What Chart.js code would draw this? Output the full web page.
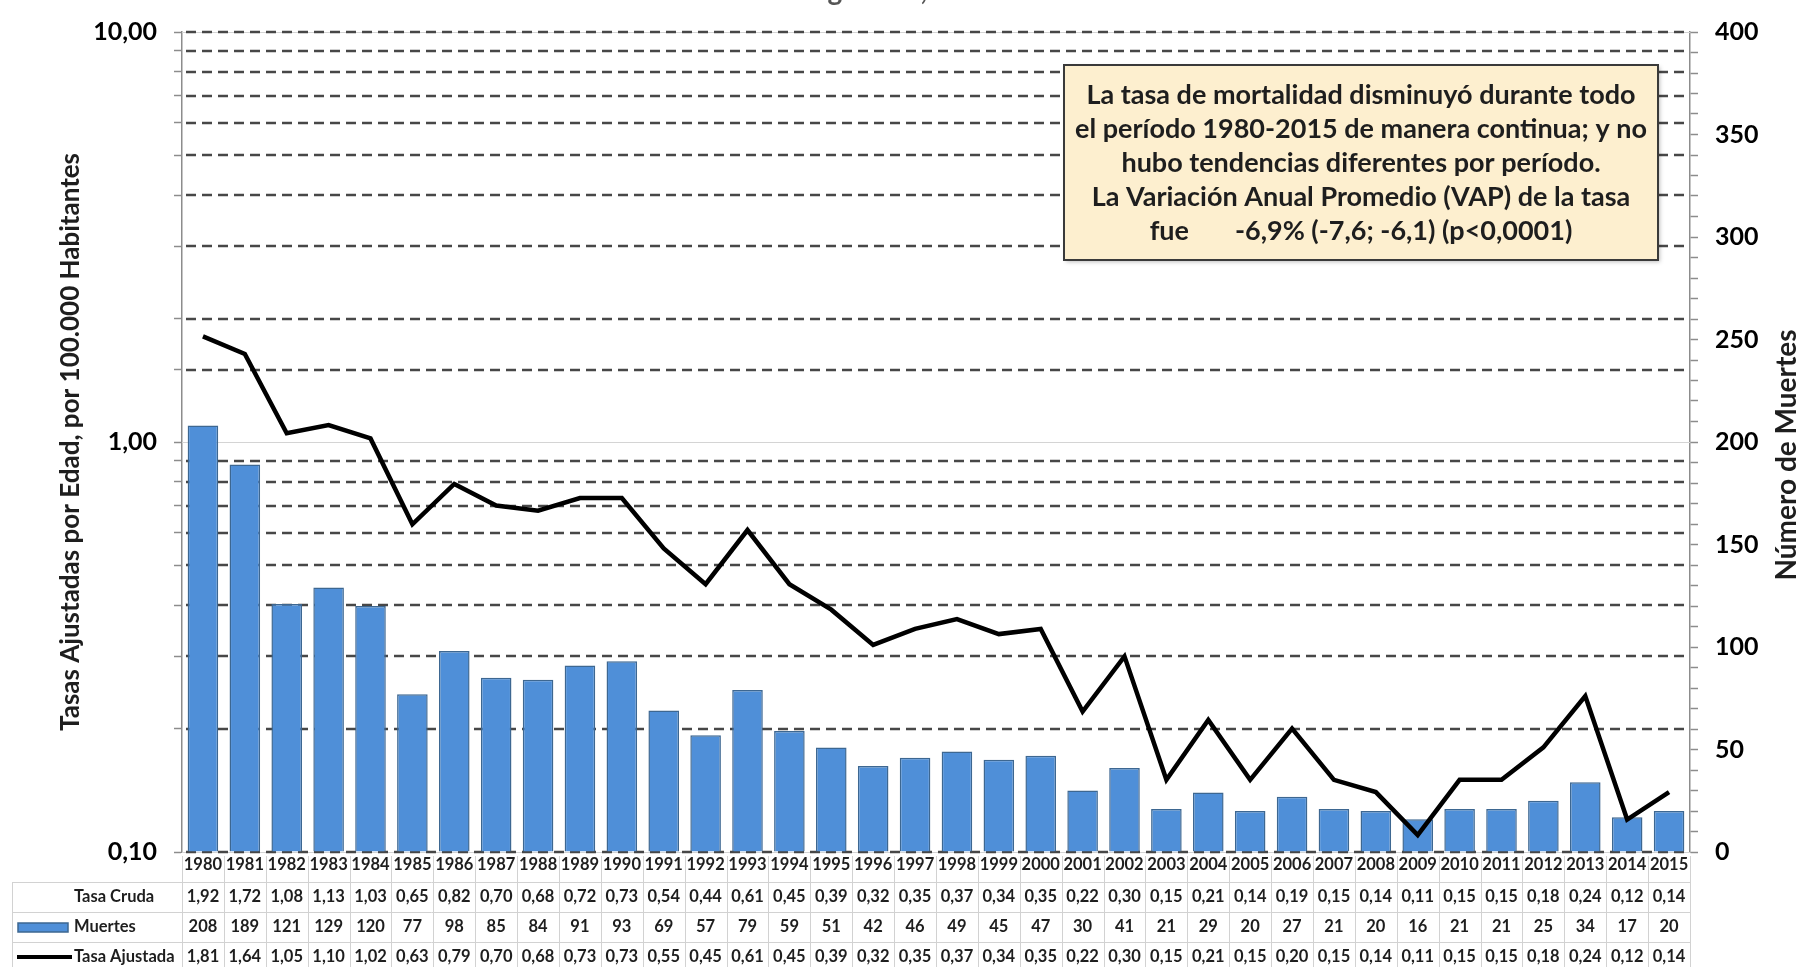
<!DOCTYPE html>
<html lang="es">
<head>
<meta charset="utf-8">
<title>Mortalidad 1980-2015</title>
<script src="https://cdn.jsdelivr.net/npm/chart.js@4.4.1/dist/chart.umd.min.js"></script>
<style>
  html, body { margin: 0; padding: 0; background: #fff; }
  canvas { display: block; }
</style>
</head>
<body>
<canvas id="mortalityChart" width="1802" height="967"></canvas>
<script>
const years = ["1980", "1981", "1982", "1983", "1984", "1985", "1986", "1987", "1988", "1989",
  "1990", "1991", "1992", "1993", "1994", "1995", "1996", "1997", "1998", "1999",
  "2000", "2001", "2002", "2003", "2004", "2005", "2006", "2007", "2008", "2009",
  "2010", "2011", "2012", "2013", "2014", "2015"];

const tasaCruda = [1.92, 1.72, 1.08, 1.13, 1.03, 0.65, 0.82, 0.70, 0.68, 0.72,
  0.73, 0.54, 0.44, 0.61, 0.45, 0.39, 0.32, 0.35, 0.37, 0.34,
  0.35, 0.22, 0.30, 0.15, 0.21, 0.14, 0.19, 0.15, 0.14, 0.11,
  0.15, 0.15, 0.18, 0.24, 0.12, 0.14];

const muertes = [208, 189, 121, 129, 120, 77, 98, 85, 84, 91,
  93, 69, 57, 79, 59, 51, 42, 46, 49, 45,
  47, 30, 41, 21, 29, 20, 27, 21, 20, 16,
  21, 21, 25, 34, 17, 20];

const tasaAjustada = [1.81, 1.64, 1.05, 1.10, 1.02, 0.63, 0.79, 0.70, 0.68, 0.73,
  0.73, 0.55, 0.45, 0.61, 0.45, 0.39, 0.32, 0.35, 0.37, 0.34,
  0.35, 0.22, 0.30, 0.15, 0.21, 0.15, 0.20, 0.15, 0.14, 0.11,
  0.15, 0.15, 0.18, 0.24, 0.12, 0.14];

const noteLines = [
  "La tasa de mortalidad disminuyó durante todo",
  "el período 1980-2015 de manera continua; y no",
  "hubo tendencias diferentes por período.",
  "La Variación Anual Promedio (VAP) de la tasa",
  "fue       -6,9% (-7,6; -6,1) (p<0,0001)"
];

const FONT = "Lato, 'Open Sans', sans-serif";
const TEXT_COLOR = "#1e1e1e";
const BAR_COLOR = "#4f8fd8";
const BAR_BORDER = "#3d6791";

Chart.defaults.font.family = FONT;
Chart.defaults.color = TEXT_COLOR;

function isPowerOfTen(v) {
  const l = Math.log10(v);
  return Math.abs(l - Math.round(l)) < 1e-9;
}

function comma(v) {
  return v.toFixed(2).replace(".", ",");
}

// dashed log gridlines, drawn under the bars
const gridLinesPlugin = {
  id: "logGridLines",
  beforeDatasetsDraw(chart) {
    const { ctx, chartArea } = chart;
    const yScale = chart.scales.yRate;
    ctx.save();
    yScale.ticks.forEach((tick) => {
      const y = Math.round(yScale.getPixelForValue(tick.value));
      const decade = isPowerOfTen(tick.value);
      if (decade) {
        ctx.setLineDash([]);
        ctx.strokeStyle = "#d4d4d4";
        ctx.lineWidth = 1;
        ctx.beginPath();
        ctx.moveTo(chartArea.left, y + 0.5);
        ctx.lineTo(chartArea.right, y + 0.5);
        ctx.stroke();
      }
      if (!decade || Math.abs(tick.value - 1) > 1e-9) {
        ctx.setLineDash([10, 6]);
        ctx.strokeStyle = "#474747";
        ctx.lineWidth = 2.6;
        ctx.beginPath();
        ctx.moveTo(chartArea.left + 4, y);
        ctx.lineTo(chartArea.right, y);
        ctx.stroke();
      }
    });
    ctx.restore();
  }
};

// axis titles, data table, note box
const extrasPlugin = {
  id: "extras",
  afterDraw(chart) {
    const { ctx, chartArea } = chart;
    const xScale = chart.scales.x;
    ctx.save();

    // title, cut off by the top edge
    ctx.fillStyle = "#555";
    ctx.font = "bold 28px " + FONT;
    ctx.textAlign = "center";
    ctx.textBaseline = "alphabetic";
    ctx.fillText("Argentina, 1980-2015", (chartArea.left + chartArea.right) / 2, 0);

    // axis titles
    ctx.fillStyle = TEXT_COLOR;
    ctx.textBaseline = "middle";
    ctx.font = "bold 26px " + FONT;
    ctx.save();
    ctx.translate(71, (chartArea.top + chartArea.bottom) / 2);
    ctx.rotate(-Math.PI / 2);
    ctx.fillText("Tasas Ajustadas por Edad, por 100.000 Habitantes", 0, 0);
    ctx.restore();
    ctx.font = "bold 28px " + FONT;
    ctx.save();
    ctx.translate(1787, 455);
    ctx.rotate(-Math.PI / 2);
    ctx.fillText("Número de Muertes", 0, 0);
    ctx.restore();

    // data table
    const half = (xScale.getPixelForValue(1) - xScale.getPixelForValue(0)) / 2;
    const tableLeft = 12;
    const rowTops = [882, 912, 942, 972];
    const tableRight = xScale.getPixelForValue(years.length - 1) + half;
    ctx.strokeStyle = "#d2d2d2";
    ctx.lineWidth = 1;
    rowTops.forEach((y) => {
      ctx.beginPath();
      ctx.moveTo(tableLeft, y + 0.5);
      ctx.lineTo(tableRight, y + 0.5);
      ctx.stroke();
    });
    const verticals = [tableLeft];
    for (let i = 0; i <= years.length; i++) {
      verticals.push(xScale.getPixelForValue(i) - half);
    }
    verticals.forEach((x, k) => {
      ctx.beginPath();
      ctx.moveTo(Math.round(x) + 0.5, k === 0 ? rowTops[0] : 856);
      ctx.lineTo(Math.round(x) + 0.5, 967);
      ctx.stroke();
    });

    const rows = [
      { label: "Tasa Cruda", values: tasaCruda.map(comma) },
      { label: "Muertes", values: muertes.map(String) },
      { label: "Tasa Ajustada", values: tasaAjustada.map(comma) }
    ];
    ctx.font = "bold 16.5px " + FONT;
    ctx.textBaseline = "middle";
    rows.forEach((row, r) => {
      const cy = rowTops[r] + 15;
      ctx.textAlign = "left";
      ctx.fillStyle = TEXT_COLOR;
      ctx.fillText(row.label, 74, cy);
      ctx.textAlign = "center";
      row.values.forEach((v, i) => {
        ctx.fillText(v, xScale.getPixelForValue(i), cy);
      });
    });
    // legend keys
    ctx.fillStyle = BAR_COLOR;
    ctx.strokeStyle = BAR_BORDER;
    ctx.lineWidth = 1.5;
    ctx.fillRect(18, rowTops[1] + 11, 50, 9);
    ctx.strokeRect(18, rowTops[1] + 11, 50, 9);
    ctx.strokeStyle = "#000";
    ctx.lineWidth = 4;
    ctx.beginPath();
    ctx.moveTo(17, rowTops[2] + 15);
    ctx.lineTo(72, rowTops[2] + 15);
    ctx.stroke();

    // note box
    const bx = 1064, by = 65, bw = 594, bh = 195;
    ctx.shadowColor = "rgba(0,0,0,0.25)";
    ctx.shadowBlur = 4;
    ctx.shadowOffsetX = 2;
    ctx.shadowOffsetY = 2;
    ctx.fillStyle = "#fdefcf";
    ctx.fillRect(bx, by, bw, bh);
    ctx.shadowColor = "transparent";
    ctx.strokeStyle = "#3a3a3a";
    ctx.lineWidth = 2;
    ctx.strokeRect(bx, by, bw, bh);
    ctx.fillStyle = TEXT_COLOR;
    ctx.font = "bold 27px " + FONT;
    ctx.textAlign = "center";
    noteLines.forEach((line, i) => {
      ctx.fillText(line, bx + bw / 2, 95 + i * 34);
    });

    ctx.restore();
  }
};

const chart = new Chart(document.getElementById("mortalityChart"), {
  type: "bar",
  data: {
    labels: years,
    datasets: [
      {
        type: "line",
        label: "Tasa Ajustada",
        data: tasaAjustada,
        yAxisID: "yRate",
        borderColor: "#000",
        borderWidth: 4.5,
        pointRadius: 0,
        tension: 0,
        fill: false,
        order: 0
      },
      {
        type: "bar",
        label: "Muertes",
        data: muertes,
        yAxisID: "yMuertes",
        backgroundColor: BAR_COLOR,
        borderColor: BAR_BORDER,
        borderWidth: 1.5,
        barPercentage: 0.73,
        categoryPercentage: 1,
        order: 1
      }
    ]
  },
  options: {
    responsive: false,
    devicePixelRatio: 1,
    animation: false,
    layout: { padding: { left: 0, right: 0, top: 24, bottom: 0 } },
    plugins: {
      legend: { display: false },
      tooltip: { enabled: false }
    },
    scales: {
      x: {
        grid: { display: false, drawTicks: false, tickLength: 0 },
        border: { display: false },
        ticks: {
          autoSkip: false,
          maxRotation: 0,
          padding: 3,
          color: TEXT_COLOR,
          font: { size: 16.5, weight: "bold" }
        },
        afterFit(scale) { scale.height = 115; }
      },
      yRate: {
        type: "logarithmic",
        position: "left",
        min: 0.1,
        max: 10,
        grid: {
          drawOnChartArea: false,
          tickLength: 8,
          tickColor: "#8c8c8c",
          tickWidth: 1.5
        },
        border: { color: "#8c8c8c", width: 1.5 },
        ticks: {
          autoSkip: false,
          padding: 17,
          color: "#000",
          font: { size: 25, weight: "bold" },
          callback: (value) => (isPowerOfTen(value) ? comma(value) : "")
        },
        afterFit(scale) { scale.width = 182; }
      },
      yMuertes: {
        type: "linear",
        position: "right",
        min: 0,
        max: 400,
        grid: {
          drawOnChartArea: false,
          tickLength: 8,
          tickColor: "#8c8c8c",
          tickWidth: 1.5
        },
        border: { color: "#8c8c8c", width: 1.5 },
        ticks: {
          autoSkip: false,
          stepSize: 10,
          padding: 17,
          color: "#000",
          font: { size: 25, weight: "bold" },
          callback: (value) => (value % 50 === 0 ? String(value) : "")
        },
        afterFit(scale) { scale.width = 112; }
      }
    }
  },
  plugins: [gridLinesPlugin, extrasPlugin]
});
</script>
</body>
</html>
